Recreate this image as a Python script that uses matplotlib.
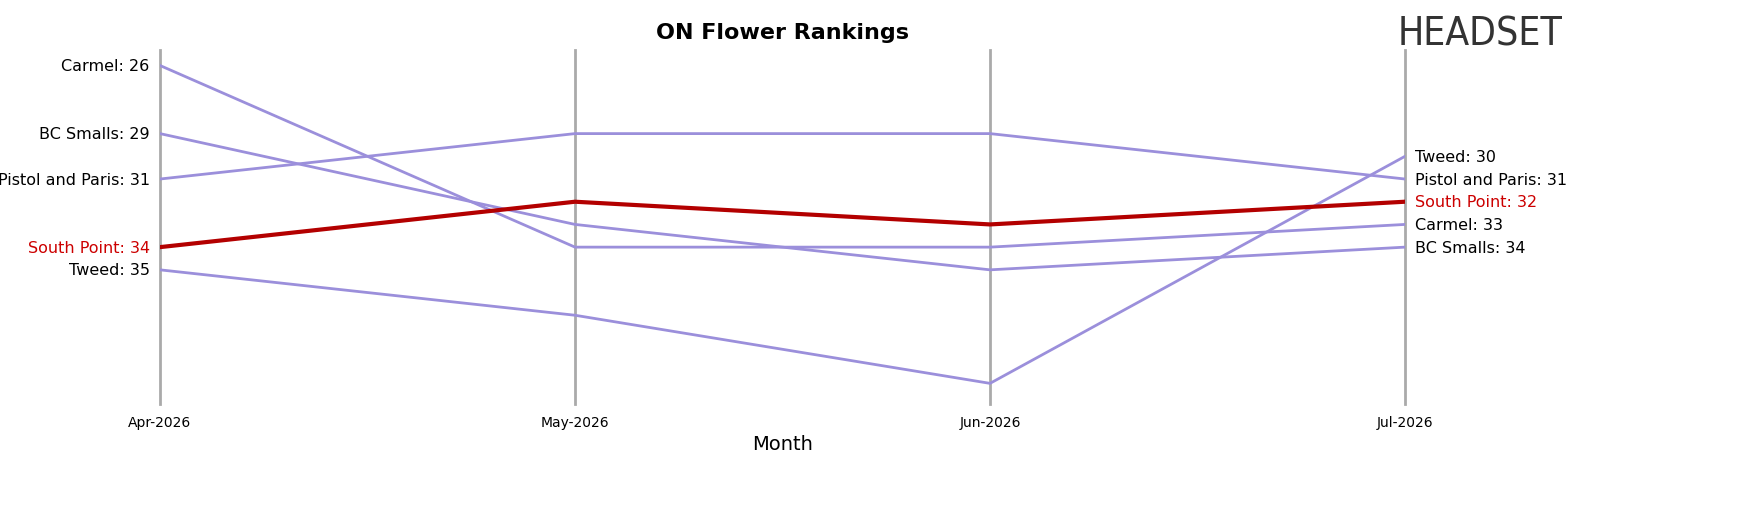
import matplotlib
matplotlib.use("Agg")
import matplotlib.pyplot as plt

months = ["Apr-2026", "May-2026", "Jun-2026", "Jul-2026"]
brands = ["Carmel", "BC Smalls", "Pistol and Paris", "South Point", "Tweed"]
carmel = [26, 34, 34, 33]
bc_smalls = [29, 33, 35, 34]
pistol = [31, 29, 29, 31]
south_point = [34, 32, 33, 32]
tweed = [35, 37, 40, 30]
ranks = [carmel, bc_smalls, pistol, south_point, tweed]
highlight = "South Point"

fig = plt.figure(figsize=(17.47, 5.06), dpi=100)
ax = fig.add_axes([160 / 1747, 0.2, (1405 - 160) / 1747, 0.70])
x = list(range(len(months)))

for xi in x:
    ax.axvline(xi, color="#aaaaaa", linewidth=2, zorder=0, clip_on=False)

for name, r in zip(brands, ranks):
    hl = name == highlight
    ax.plot(x, r, color="#b30000" if hl else "#9b8fdb",
            linewidth=3 if hl else 2, zorder=3 if hl else 2)
    c = "#cc0000" if hl else "black"
    ax.text(-0.025, r[0], f"{name}: {r[0]}", ha="right", va="center", fontsize=11.5, color=c)
    ax.text(3.025, r[-1], f"{name}: {r[-1]}", ha="left", va="center", fontsize=11.5, color=c)

ax.set_xlim(0, 3)
ax.set_ylim(40.9, 25.3)
ax.set_xticks(x)
ax.set_xticklabels(months, fontsize=10)
ax.set_yticks([])
ax.tick_params(axis="x", length=0, pad=8)
for s in ax.spines.values():
    s.set_visible(False)
ax.set_xlabel("Month", fontsize=14)
fig.text(783 / 1747, 1 - 33 / 506, "ON Flower Rankings", ha="center", va="center",
         fontsize=16, fontweight="bold")
fig.text(1480 / 1747, 1 - 35 / 506, "HEADSET", ha="center", va="center",
         fontsize=28, color="#333333", fontstretch="condensed")

fig.savefig("out.png", dpi=100)
